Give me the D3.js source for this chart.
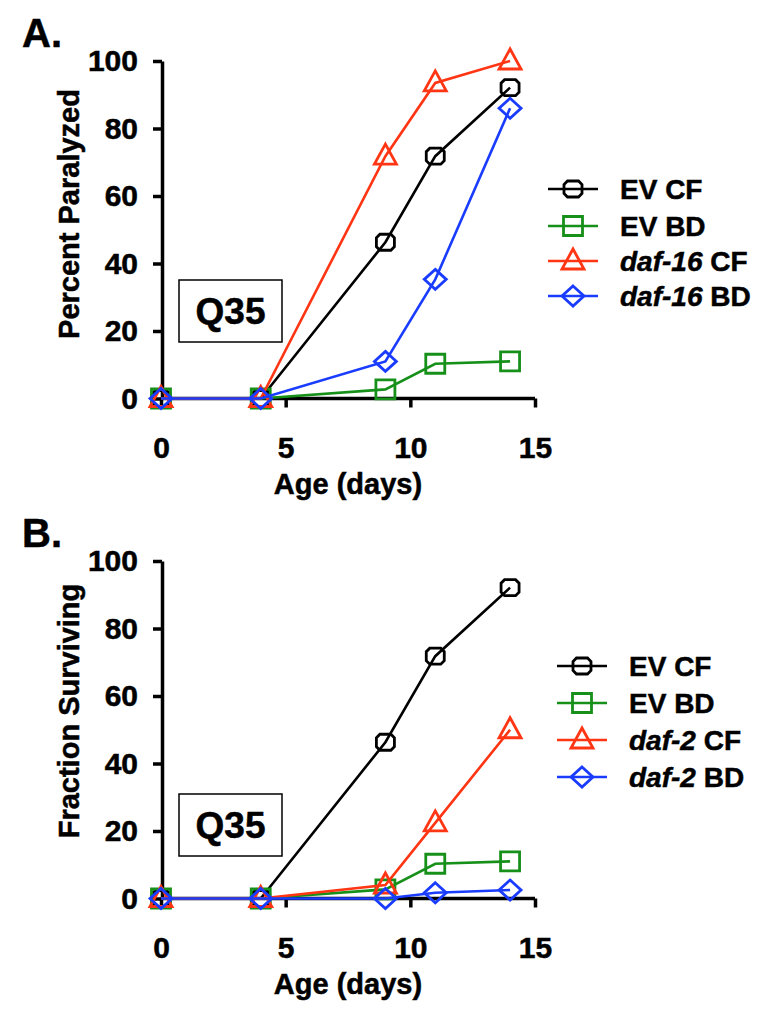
<!DOCTYPE html>
<html>
<head>
<meta charset="utf-8">
<script src="https://cdn.jsdelivr.net/npm/d3@7"></script>
<style>
  body { margin: 0; background: #fff; }
  svg text { font-family: "Liberation Sans", Arial, sans-serif; font-weight: bold; stroke: #000; stroke-width: 0.5px; }
</style>
</head>
<body>
<div id="chart"></div>
<script>
// data
const days = [0, 4, 9, 11, 14];
const evCF = [0, 0, 46.3, 71.8, 92.1];
const evBD = [0, 0, 2.7, 10.3, 11];
const daf16CF = [0, 0, 71.8, 93.5, 100];
const daf16BD = [0, 0, 11, 35.3, 86];
const daf2CF = [0, 0, 4, 22.4, 50];
const daf2BD = [0, 0, 0, 1.7, 2.5];

const xTicks = [0, 5, 10, 15];
const yTicks = [0, 20, 40, 60, 80, 100];
const seriesLabels = ["EV CF", "EV BD", "CF", "BD"];
const genes = ["daf-16", "daf-2"];
const yTitles = ["Percent Paralyzed", "Fraction Surviving"];
const panelLabels = ["A.", "B."];

const width = 763;
const height = 1014;
const colors = ["#000000", "#17901a", "#ff3513", "#1a3cff"];

const svg = d3.select("#chart")
    .append("svg")
    .attr("width", width)
    .attr("height", height);

// marker shapes
const octagon = {
    draw(ctx, size) {
        const w = 9, h = 8, c = 3.5;
        ctx.moveTo(-w + c, -h);
        ctx.lineTo(w - c, -h);
        ctx.lineTo(w, -h + c);
        ctx.lineTo(w, h - c);
        ctx.lineTo(w - c, h);
        ctx.lineTo(-w + c, h);
        ctx.lineTo(-w, h - c);
        ctx.lineTo(-w, -h + c);
        ctx.closePath();
    }
};
const diamond = {
    draw(ctx, size) {
        ctx.moveTo(0, -10);
        ctx.lineTo(11, 0);
        ctx.lineTo(0, 10);
        ctx.lineTo(-11, 0);
        ctx.closePath();
    }
};
const triangle = {
    draw(ctx, size) {
        ctx.moveTo(0, -12);
        ctx.lineTo(11, 8);
        ctx.lineTo(-11, 8);
        ctx.closePath();
    }
};
const symbols = [
    d3.symbol().type(octagon)(),
    d3.symbol().type(d3.symbolSquare).size(361)(),
    d3.symbol().type(triangle)(),
    d3.symbol().type(diamond)()
];

function drawPanel(idx, series, off, legendX, legendRows, boxY) {
    const g = svg.append("g");

    const x = d3.scaleLinear().domain([0, 15]).range([161, 535]);
    const y = d3.scaleLinear().domain([0, 100]).range([398.5 + off, 61 + off]);

    // axes
    const yAxis = g.append("g")
        .attr("transform", "translate(162,0)")
        .call(d3.axisLeft(y).tickValues(yTicks).tickSize(9).tickSizeOuter(0).tickPadding(15));
    const xAxis = g.append("g")
        .attr("transform", `translate(0,${y(0)})`)
        .call(d3.axisBottom(x).tickValues(xTicks).tickSize(9).tickSizeOuter(0).tickPadding(29));
    [xAxis, yAxis].forEach(a => {
        a.selectAll("path, line").attr("stroke", "#000").attr("stroke-width", 3.5);
        a.selectAll("text").attr("fill", "#000").style("font-size", "30px");
    });
    xAxis.select(".domain").attr("d", `M${x(0)},0H${x(15)}`);

    // titles
    g.append("text")
        .attr("x", 348).attr("y", 494 + off)
        .attr("text-anchor", "middle")
        .style("font-size", "29px")
        .text("Age (days)");
    g.append("text")
        .attr("transform", `translate(79,${214 + off * 0.994}) rotate(-90)`)
        .attr("text-anchor", "middle")
        .style("font-size", "29px")
        .text(yTitles[idx]);
    g.append("text")
        .attr("x", 22).attr("y", 47 + off)
        .style("font-size", "40px")
        .text(panelLabels[idx]);

    // Q35 box
    g.append("rect")
        .attr("x", 179).attr("y", boxY)
        .attr("width", 103).attr("height", 62)
        .attr("fill", "none").attr("stroke", "#000").attr("stroke-width", 1.5);
    g.append("text")
        .attr("x", 230.5).attr("y", boxY + 44)
        .attr("text-anchor", "middle")
        .style("font-size", "37px")
        .text("Q35");

    // lines and markers
    const line = d3.line().x((d, i) => x(days[i])).y(d => y(d));
    series.forEach((s, k) => {
        g.append("path")
            .datum(s)
            .attr("d", line)
            .attr("fill", "none")
            .attr("stroke", colors[k])
            .attr("stroke-width", 2.6);
        g.selectAll(null)
            .data(s)
            .enter()
            .append("path")
            .attr("d", symbols[k])
            .attr("transform", (d, i) => `translate(${x(days[i])},${y(d)})`)
            .attr("fill", "none")
            .attr("stroke", colors[k])
            .attr("stroke-width", 2.8);
    });

    // legend
    const items = g.selectAll(".legend-item")
        .data(seriesLabels)
        .enter()
        .append("g")
        .attr("class", "legend-item")
        .attr("transform", (d, i) => `translate(${legendX},${legendRows[i]})`);
    items.append("line")
        .attr("x1", 0).attr("x2", 50)
        .attr("stroke", (d, i) => colors[i])
        .attr("stroke-width", 2.6);
    items.append("path")
        .attr("d", (d, i) => symbols[i])
        .attr("transform", "translate(25,0)")
        .attr("fill", "none")
        .attr("stroke", (d, i) => colors[i])
        .attr("stroke-width", 2.8);
    const label = items.append("text")
        .attr("x", 72).attr("y", 10)
        .style("font-size", "28px");
    label.each(function(d, i) {
        const t = d3.select(this);
        if (i >= 2) {
            t.append("tspan").style("font-style", "italic").text(genes[idx]);
            t.append("tspan").text(" " + d);
        } else {
            t.text(d);
        }
    });
}

drawPanel(0, [evCF, evBD, daf16CF, daf16BD], 0, 548, [189, 226, 261, 296], 280);
drawPanel(1, [evCF, evBD, daf2CF, daf2BD], 500, 557, [666, 703, 740, 777], 794);
</script>
</body>
</html>
